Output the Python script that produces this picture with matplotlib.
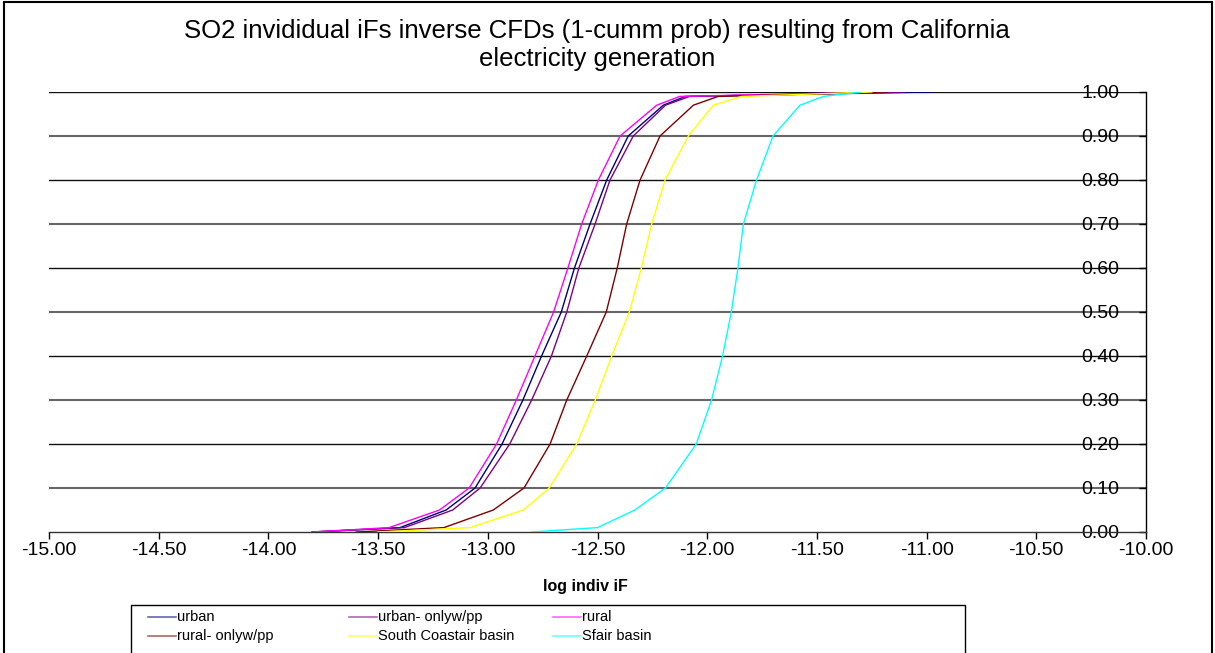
import matplotlib
matplotlib.use("Agg")
import matplotlib.pyplot as plt
from matplotlib.lines import Line2D
from matplotlib.patches import Rectangle
from matplotlib.ticker import FormatStrFormatter

plt.rcParams['font.family'] = ['Liberation Sans', 'DejaVu Sans']

# ---- data ----
prob_levels = [0.00, 0.01, 0.05, 0.10, 0.20, 0.30, 0.40, 0.50, 0.60, 0.70, 0.80, 0.90, 0.97, 0.99, 1.00]

urban = [-13.80, -13.40, -13.19, -13.058, -12.935, -12.84, -12.755, -12.665, -12.605, -12.534, -12.458, -12.36, -12.20, -12.10, -10.98]
urban_onlywpp = [-13.80, -13.38, -13.16, -13.035, -12.90, -12.80, -12.71, -12.64, -12.585, -12.511, -12.443, -12.337, -12.19, -12.08, -11.10]
rural = [-13.80, -13.45, -13.22, -13.085, -12.96, -12.87, -12.785, -12.70, -12.635, -12.572, -12.496, -12.397, -12.23, -12.125, -11.20]
rural_onlywpp = [-13.60, -13.20, -12.975, -12.835, -12.716, -12.64, -12.549, -12.46, -12.41, -12.367, -12.306, -12.215, -12.063, -11.95, -11.18]
south_coast = [-13.50, -13.08, -12.838, -12.72, -12.595, -12.51, -12.435, -12.355, -12.30, -12.253, -12.192, -12.086, -11.972, -11.843, -11.25]
sf_air = [-12.80, -12.50, -12.33, -12.19, -12.05, -11.98, -11.93, -11.89, -11.86, -11.835, -11.775, -11.70, -11.577, -11.47, -11.30]

series_labels = ["urban", "urban- onlyw/pp", "rural", "rural- onlyw/pp", "South Coastair basin", "Sfair basin"]
series_values = [urban, urban_onlywpp, rural, rural_onlywpp, south_coast, sf_air]
series_colors = ["#000080", "#800080", "#FF00FF", "#800000", "#FFFF00", "#00FFFF"]

x_ticks = [-15.0, -14.5, -14.0, -13.5, -13.0, -12.5, -12.0, -11.5, -11.0, -10.5, -10.0]
y_ticks = [0.0, 0.1, 0.2, 0.3, 0.4, 0.5, 0.6, 0.7, 0.8, 0.9, 1.0]

title_text = "SO2 invididual iFs inverse CFDs (1-cumm prob) resulting from California\nelectricity generation"
xlabel_text = "log indiv iF"

# ---- figure ----
W, H = 1215, 653
fig = plt.figure(figsize=(W / 100, H / 100), dpi=100)
fig.patch.set_facecolor("white")

def fx(px):
    return px / W

def fy(py):
    return 1 - py / H

ax = fig.add_axes([fx(49), fy(532), fx(1146) - fx(49), fy(92) - fy(532)])
ax.set_xlim(-15, -10)
ax.set_ylim(0, 1.0)
ax.set_facecolor("white")

for i, yv in enumerate(y_ticks[1:]):
    ax.axhline(yv, color="#111111" if i % 2 == 1 else "#666666", lw=1.0 if i % 2 == 1 else 1.5, zorder=1)

for vals, col in zip(series_values, series_colors):
    ax.plot(vals, prob_levels, color=col, lw=1.0, zorder=3)

for s in ["top", "left"]:
    ax.spines[s].set_visible(False)
ax.spines["bottom"].set_color("#333333")
ax.spines["bottom"].set_linewidth(1.0)
ax.spines["right"].set_color("#000000")
ax.spines["right"].set_linewidth(1.0)

ax.set_xticks(x_ticks)
ax.xaxis.set_major_formatter(FormatStrFormatter("%.2f"))
ax.tick_params(axis="x", direction="out", length=5, width=1, pad=2, labelsize=14, colors="#000000")

ax.yaxis.set_ticks_position("right")
ax.set_yticks(y_ticks)
ax.yaxis.set_major_formatter(FormatStrFormatter("%.2f"))
ax.tick_params(axis="y", direction="in", length=5, width=1, pad=-19, labelsize=14)
for lbl in ax.get_yticklabels():
    lbl.set_horizontalalignment("right")
    lbl.set_verticalalignment("center_baseline")

fig.text(fx(585), fy(586), xlabel_text, ha="center", va="center", fontsize=11.5, fontweight="bold")
fig.text(fx(597), fy(45), title_text, ha="center", va="center", fontsize=18.5, linespacing=1.2)

# legend drawn manually
fig.add_artist(Rectangle((fx(131), fy(662)), fx(965) - fx(131), fy(605) - fy(662),
                         transform=fig.transFigure, fill=False, edgecolor="#000000", lw=1.0))
col_x = [148, 349, 553]
row_y = [617, 636]
for i, (lab, col) in enumerate(zip(series_labels, series_colors)):
    cx = col_x[i % 3]
    ry = row_y[i // 3]
    fig.add_artist(Line2D([fx(cx), fx(cx + 28)], [fy(ry), fy(ry)], transform=fig.transFigure,
                          color=col, lw=1.2, alpha=0.6))
    fig.text(fx(cx + 29), fy(ry), lab, ha="left", va="center", fontsize=10.5)

# outer chart border
fig.add_artist(Rectangle((fx(4), fy(660)), fx(1212) - fx(4), fy(2) - fy(660),
                         transform=fig.transFigure, fill=False, edgecolor="#000000", lw=1.5))

fig.savefig("out.png", dpi=100, facecolor="white")
